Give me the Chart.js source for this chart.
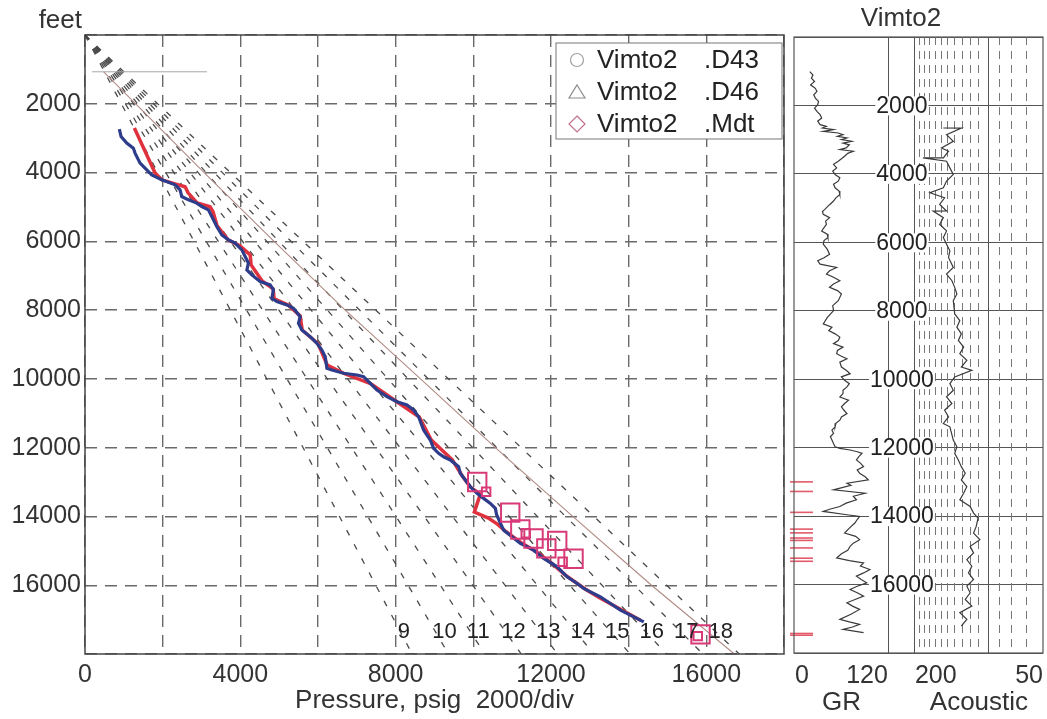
<!DOCTYPE html>
<html>
<head>
<meta charset="utf-8">
<script src="https://cdn.jsdelivr.net/npm/chart.js@4.4.1/dist/chart.umd.min.js"></script>
<style>
  html, body { margin: 0; padding: 0; background: #fff; }
  #wrap { position: relative; width: 1047px; height: 719px; }
  #cPres { position: absolute; left: 0; top: 0; }
  #cLog { position: absolute; left: 790px; top: 0; }
</style>
</head>
<body>
<div id="wrap">
  <canvas id="cPres" width="799" height="719"></canvas>
  <canvas id="cLog" width="257" height="719"></canvas>
</div>
<script>
const FONT = '"Liberation Sans", Arial, sans-serif';

// Mud weight lines (ppg) and their labels
const mudWeights = [9, 10, 11, 12, 13, 14, 15, 16, 17, 18];
const PSI_PER_FT_PER_PPG = 0.052;
const gradLabelDepth = 17100;

// Pressure profile, blue
const bluePressure = [884, 928, 1075, 1245, 1289, 1418, 1590, 1719, 1977, 2320, 2448, 2492, 2662, 2879, 3008, 3178, 3265, 3394, 3523, 3693,
  3866, 4039, 4124, 4209, 4168, 4296, 4510, 4768, 4853, 4812, 4941, 5198, 5369, 5541, 5497, 5585, 5799, 5972, 6100, 6186,
  6229, 6358, 6657, 7003, 7173, 7345, 7518, 7776, 8034, 8291, 8461, 8590, 8719, 8892, 8977, 9106, 9235, 9407, 9621, 9665,
  9794, 9923, 10095, 10265, 10438, 10567, 10600, 10700, 10781, 10997, 11211, 11554, 11812, 12157, 12415, 12673, 12843, 13015, 13273, 13531,
  13789, 14131, 14389];
const blueDepth = [2736, 2951, 3143, 3289, 3434, 3725, 3920, 4066, 4211, 4357, 4502, 4697, 4793, 4889, 4988, 5084, 5279, 5570, 5811, 5957,
  6053, 6248, 6443, 6636, 6831, 6976, 7171, 7267, 7413, 7654, 7753, 7849, 7945, 8190, 8382, 8577, 8772, 8964, 9159, 9354,
  9691, 9741, 9837, 9886, 9936, 10128, 10323, 10518, 10664, 10760, 10905, 11100, 11487, 11778, 12020, 12165, 12264, 12357, 12555, 12747,
  12942, 13137, 13329, 13475, 13620, 13766, 13950, 14200, 14398, 14593, 14785, 14980, 15221, 15466, 15757, 15949, 16094, 16193, 16339, 16531,
  16725, 16921, 17066];

// Pressure profile, red
const redPressure = [1271, 1804, 1977, 2320, 2577, 2655, 2887, 3222, 3299, 3402, 3686, 3995, 4253, 4278, 4562, 4845, 4871, 5232, 5541, 5593,
  6005, 6237, 6701, 7371, 8041, 8608, 8918, 9459, 9716, 9923, 10180, 10026, 10387, 10619, 10825, 11211, 11598, 11985, 12371, 12887,
  13273, 13789, 14304];
const redDepth = [2707, 4016, 4211, 4328, 4415, 4590, 4881, 4997, 5142, 5550, 5957, 6132, 6394, 6685, 7151, 7384, 7675, 7849, 8170, 8577,
  8984, 9595, 9857, 10148, 10673, 11109, 11778, 12357, 12823, 13146, 13350, 13874, 14049, 14223, 14427, 14747, 15009, 15329, 15707, 16115,
  16377, 16697, 17017];

// Overburden and sea bed
const overburdenPressure = [480, 1306, 3067, 4870, 6701, 8640, 10567, 12560, 14588, 16720];
const overburdenDepth = [1070, 2000, 4000, 6000, 8000, 10000, 12000, 14000, 16000, 18000];
const seabedPressure = [180, 3140];
const seabedDepth = 1070;

// Mdt points
const mdtPressure = [10100, 10330, 10950, 11210, 11350, 11550, 12160, 11880, 12580, 12300, 15850, 15780];
const mdtDepth = [13000, 13280, 13890, 14380, 14490, 14640, 14710, 14930, 15230, 15320, 17430, 17480];
const mdtMarkSize = [13, 6, 13, 13, 6, 13, 13, 13, 13, 6, 13, 6];

const legendNames = ['Vimto2', 'Vimto2', 'Vimto2'];
const legendFiles = ['.D43', '.D46', '.Mdt'];

// Log panel
const grDepth = [1010, 1110, 1204, 1300, 1398, 1500, 1592, 1690, 1786, 1880, 1980, 2080, 2174, 2270, 2368, 2460, 2562, 2611, 2660, 2707,
  2756, 2805, 2853, 2900, 2950, 3000, 3047, 3100, 3150, 3241, 3290, 3339, 3400, 3484, 3560, 3630, 3720, 3824, 3920, 4018,
  4110, 4212, 4300, 4406, 4500, 4600, 4700, 4794, 4900, 5036, 5100, 5182, 5279, 5380, 5473, 5570, 5667, 5760, 5861, 5950,
  6055, 6200, 6346, 6450, 6540, 6637, 6734, 6830, 6928, 7020, 7122, 7220, 7316, 7410, 7510, 7704, 7850, 7995, 8200, 8383,
  8480, 8580, 8674, 8770, 8868, 8960, 9062, 9160, 9256, 9330, 9402, 9500, 9644, 9740, 9838, 9930, 10032, 10130, 10226, 10320,
  10420, 10520, 10614, 10710, 10808, 10900, 11002, 11100, 11196, 11290, 11390, 11490, 11584, 11680, 11778, 11880, 11972, 12021, 12069, 12120,
  12166, 12260, 12360, 12450, 12554, 12650, 12748, 12850, 12942, 13039, 13100, 13233, 13331, 13420, 13524, 13620, 13718, 13800, 13864, 13961,
  14009, 14100, 14203, 14350, 14494, 14590, 14688, 14790, 14882, 15000, 15100, 15222, 15300, 15367, 15460, 15561, 15660, 15755, 15850, 15950,
  16050, 16144, 16240, 16338, 16430, 16532, 16630, 16726, 16870, 17017, 17090, 17162, 17240, 17308, 17405];
const grValue = [20, 24, 22, 26, 21, 27, 29, 25, 27, 31, 30, 26, 29, 33, 35, 30, 33, 41, 36, 50,
  37, 56, 62, 55, 67, 60, 73, 62, 70, 66, 58, 75, 68, 64, 60, 56, 50, 54, 49, 52,
  58, 56, 50, 52, 57, 58, 53, 50, 45, 39, 36, 37, 45, 40, 41, 38, 35, 42, 43, 38,
  37, 42, 45, 38, 30, 33, 54, 45, 41, 50, 58, 50, 45, 55, 60, 56, 49, 50, 42, 37,
  48, 44, 52, 58, 56, 50, 62, 55, 54, 60, 67, 58, 60, 66, 71, 60, 64, 70, 67, 62,
  62, 58, 69, 64, 60, 63, 67, 60, 58, 53, 52, 48, 50, 46, 48, 50, 52, 58, 71, 80,
  86, 82, 79, 84, 88, 80, 83, 90, 94, 67, 72, 50, 90, 75, 79, 66, 58, 45, 37, 67,
  83, 80, 77, 70, 64, 78, 83, 75, 71, 68, 60, 54, 70, 88, 84, 96, 88, 79, 85, 92,
  80, 71, 80, 88, 78, 67, 74, 83, 72, 58, 70, 83, 74, 62, 88];

const acDepth = [2659, 2660, 2853, 3047, 3242, 3338, 3533, 3534, 3630, 3824, 4018, 4211, 4406, 4551, 4697, 4891, 5085, 5086, 5279, 5473,
  5667, 5861, 6055, 6249, 6443, 6734, 6928, 7122, 7316, 7510, 7704, 8092, 8286, 8480, 8674, 8868, 9062, 9256, 9450, 9644,
  9741, 9935, 10129, 10323, 10517, 10711, 10905, 11099, 11293, 11390, 11778, 11972, 12166, 12360, 12555, 12749, 12943, 13137, 13331, 13525,
  13719, 13913, 14058, 14301, 14495, 14689, 14883, 15077, 15271, 15465, 15659, 15853, 16047, 16241, 16435, 16629, 16823, 17017, 17211];
const acValue = [147, 121, 142, 132, 150, 139, 147, 183, 142, 137, 132, 142, 147, 170, 145, 153, 142, 164, 147, 153,
  142, 147, 142, 137, 139, 132, 142, 134, 130, 127, 132, 130, 123, 127, 121, 125, 118, 123, 114, 121,
  108, 130, 137, 132, 142, 134, 145, 139, 147, 137, 132, 127, 130, 125, 121, 116, 121, 114, 118, 123,
  110, 106, 101, 103, 106, 99, 110, 106, 114, 108, 112, 106, 114, 110, 116, 108, 123, 114, 121];

// Log panel axis ranges and grid
const grAxisMax = 315;
const acAxisMin = 50, acAxisMax = 740;
const acGrid = [60, 70, 80, 90, 100, 110, 120, 130, 140, 150, 160, 170, 180, 190, 200];
const acSolid = [90, 200];
const depthLabels = [2000, 4000, 6000, 8000, 10000, 12000, 14000, 16000];

const pts = (xs, ys) => xs.map((v, i) => ({ x: v, y: ys[i] }));

// ---------- pressure plot ----------
const gradientSets = mudWeights.map(w => ({
  data: [{ x: 0, y: 0 }, { x: PSI_PER_FT_PER_PPG * w * 18000, y: 18000 }],
  showLine: true, borderColor: '#4a4a4a', borderWidth: 1.3, borderDash: [6, 10],
  pointRadius: 0, order: 5
}));

const presDecor = {
  id: 'presDecor',
  afterDatasetsDraw(chart) {
    const { ctx, chartArea: a, scales: { x, y } } = chart;
    ctx.save();
    ctx.strokeStyle = '#444';
    ctx.lineWidth = 1.5;
    ctx.strokeRect(a.left, a.top, a.right - a.left, a.bottom - a.top);

    ctx.fillStyle = '#222';
    ctx.font = '22px ' + FONT;
    ctx.textAlign = 'left';
    ctx.textBaseline = 'top';
    mudWeights.forEach(w => {
      const px = x.getPixelForValue(PSI_PER_FT_PER_PPG * w * gradLabelDepth);
      ctx.fillText(String(w), px + 2, y.getPixelForValue(gradLabelDepth) - 2);
    });

    ctx.font = '26px ' + FONT;
    ctx.textAlign = 'right';
    ctx.textBaseline = 'middle';
    ctx.fillStyle = '#333';
    ctx.fillText('feet', 82, 21);

    // legend box
    const lx = 556, ly = 43, lw = a.right - 2 - lx, lh = 96;
    ctx.fillStyle = '#fff';
    ctx.fillRect(lx, ly, lw, lh);
    ctx.strokeStyle = '#777';
    ctx.lineWidth = 1;
    ctx.strokeRect(lx, ly, lw, lh);
    legendNames.forEach((n, i) => {
      const cy = 60 + i * 32;
      ctx.lineWidth = 1.2;
      ctx.beginPath();
      if (i === 0) {
        ctx.strokeStyle = '#a0a0a0';
        ctx.arc(577, cy, 6.5, 0, Math.PI * 2);
      } else if (i === 1) {
        ctx.strokeStyle = '#8c8c8c';
        ctx.moveTo(577, cy - 7); ctx.lineTo(585, cy + 6); ctx.lineTo(569, cy + 6); ctx.closePath();
      } else {
        ctx.strokeStyle = '#c0708c';
        ctx.moveTo(577, cy - 8); ctx.lineTo(585, cy); ctx.lineTo(577, cy + 8); ctx.lineTo(569, cy); ctx.closePath();
      }
      ctx.stroke();
      ctx.fillStyle = '#222';
      ctx.textAlign = 'left';
      ctx.fillText(n, 597, cy + 1);
      ctx.fillText(legendFiles[i], 704, cy + 1);
    });
    ctx.restore();
  }
};

new Chart(document.getElementById('cPres'), {
  type: 'scatter',
  data: {
    datasets: [
      ...gradientSets,
      { data: pts(overburdenPressure, overburdenDepth), showLine: true, borderColor: '#b08a84', borderWidth: 1.1, pointRadius: 0, order: 4 },
      { data: pts(seabedPressure, [seabedDepth, seabedDepth]), showLine: true, borderColor: '#a8a8a8', borderWidth: 1, pointRadius: 0, order: 4 },
      { data: pts(redPressure, redDepth), showLine: true, borderColor: '#e0323e', borderWidth: 3.5, pointRadius: 0, order: 3 },
      { data: pts(bluePressure, blueDepth), showLine: true, borderColor: '#2e3c8c', borderWidth: 3.2, pointRadius: 0, order: 2 },
      { data: pts(mdtPressure, mdtDepth), showLine: false, pointStyle: 'rect', pointRadius: mdtMarkSize,
        borderColor: '#d83a78', backgroundColor: 'rgba(255,255,255,0)', pointBorderWidth: 2, order: 1 }
    ]
  },
  options: {
    responsive: false,
    animation: false,
    events: [],
    layout: { padding: { left: 0, top: 35, right: 7, bottom: 0 } },
    plugins: { legend: { display: false }, tooltip: { enabled: false } },
    scales: {
      x: {
        type: 'linear', position: 'bottom', min: 0, max: 18000,
        ticks: { stepSize: 2000, autoSkip: false, maxRotation: 0, color: '#333', padding: 6,
          font: { family: FONT, size: 25 }, callback: v => (v % 4000 === 0 ? String(v) : '') },
        grid: { color: '#6a6a6a', lineWidth: 1.4, drawTicks: false },
        border: { display: false, dash: [12, 8] },
        title: { display: true, text: 'Pressure, psig  2000/div', color: '#333',
          font: { family: FONT, size: 26 }, padding: { top: 0, bottom: 3 } },
        afterFit: s => { s.height = 65; }
      },
      y: {
        type: 'linear', reverse: true, min: 0, max: 18000,
        ticks: { stepSize: 2000, autoSkip: false, color: '#333', padding: 4,
          font: { family: FONT, size: 25 }, callback: v => (v === 0 || v === 18000 ? '' : String(v)) },
        grid: { color: '#6a6a6a', lineWidth: 1.4, drawTicks: false },
        border: { display: false, dash: [12, 8] },
        afterFit: s => { s.width = 85; }
      }
    }
  },
  plugins: [presDecor]
});

// ---------- log panel ----------
const mdtTickSets = mdtDepth.map(d => ({
  data: [{ x: -5, y: d }, { x: 24, y: d }], xAxisID: 'gr', yAxisID: 'y',
  showLine: true, borderColor: '#e35a6a', borderWidth: 1.6, pointRadius: 0, clip: false
}));

const logDecor = {
  id: 'logDecor',
  afterDatasetsDraw(chart) {
    const { ctx, chartArea: a, scales: { y, gr, ac } } = chart;
    ctx.save();
    ctx.strokeStyle = '#555';
    ctx.lineWidth = 1.2;
    ctx.strokeRect(a.left, a.top, a.right - a.left, a.bottom - a.top);

    const midX = (gr.getPixelForValue(120) + ac.getPixelForValue(200)) / 2;
    ctx.font = '23px ' + FONT;
    ctx.textAlign = 'center';
    ctx.textBaseline = 'middle';
    depthLabels.forEach(d => {
      const py = y.getPixelForValue(d);
      const w = ctx.measureText(String(d)).width;
      ctx.fillStyle = '#fff';
      ctx.fillRect(midX - w / 2 - 1, py - 9, w + 2, 19);
      ctx.fillStyle = '#222';
      ctx.fillText(String(d), midX, py + 1);
    });

    ctx.fillStyle = '#333';
    ctx.font = '25px ' + FONT;
    const ly = 676;
    ctx.textAlign = 'left';
    ctx.fillText('0', gr.getPixelForValue(0) + 1, ly);
    ctx.textAlign = 'right';
    ctx.fillText('120', gr.getPixelForValue(120) - 1, ly);
    ctx.textAlign = 'left';
    ctx.fillText('200', ac.getPixelForValue(200), ly);
    ctx.textAlign = 'right';
    ctx.fillText('50', ac.getPixelForValue(50), ly);

    ctx.font = '26px ' + FONT;
    ctx.textAlign = 'center';
    ctx.fillText('GR', (gr.getPixelForValue(0) + gr.getPixelForValue(120)) / 2, 703);
    ctx.fillText('Acoustic', (ac.getPixelForValue(200) + ac.getPixelForValue(50)) / 2, 703);
    ctx.fillText('Vimto2', 111, 19);
    ctx.restore();
  }
};

new Chart(document.getElementById('cLog'), {
  type: 'scatter',
  data: {
    datasets: [
      { data: pts(grValue, grDepth), xAxisID: 'gr', yAxisID: 'y', showLine: true,
        borderColor: '#3a3a3a', borderWidth: 1.2, pointRadius: 0 },
      { data: pts(acValue, acDepth), xAxisID: 'ac', yAxisID: 'y', showLine: true,
        borderColor: '#3a3a3a', borderWidth: 1.2, pointRadius: 0 },
      ...mdtTickSets
    ]
  },
  options: {
    responsive: false,
    animation: false,
    events: [],
    layout: { padding: { left: 4, right: 4, top: 37, bottom: 66 } },
    plugins: { legend: { display: false }, tooltip: { enabled: false } },
    scales: {
      y: {
        type: 'linear', position: 'left', reverse: true, min: 0, max: 18000,
        ticks: { display: false, stepSize: 2000 },
        grid: { color: '#555', lineWidth: 1, drawTicks: false },
        border: { display: false },
        afterFit: s => { s.width = 0; }
      },
      gr: {
        type: 'linear', position: 'bottom', min: 0, max: grAxisMax,
        afterBuildTicks: s => { s.ticks = [{ value: 120 }]; },
        ticks: { display: false },
        grid: { color: '#555', lineWidth: 1, drawTicks: false },
        border: { display: false },
        afterFit: s => { s.height = 0; }
      },
      ac: {
        type: 'logarithmic', position: 'bottom', reverse: true, min: acAxisMin, max: acAxisMax,
        afterBuildTicks: s => { s.ticks = acGrid.map(v => ({ value: v })); },
        ticks: { display: false },
        grid: { color: c => (acSolid.includes(c.tick && c.tick.value) ? '#555' : '#777'), lineWidth: 1, drawTicks: false },
        border: { display: false, dash: c => (acSolid.includes(c.tick && c.tick.value) ? [] : [8, 6]) },
        afterFit: s => { s.height = 0; }
      }
    }
  },
  plugins: [logDecor]
});
</script>
</body>
</html>
